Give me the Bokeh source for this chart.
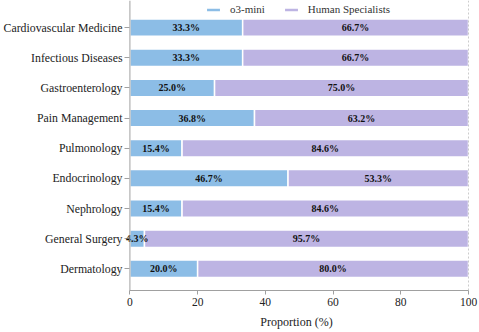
from bokeh.plotting import figure
from bokeh.models import (ColumnDataSource, Range1d, Span, Legend,
                          LegendItem, FixedTicker, LabelSet)
from bokeh.embed import file_html
from bokeh.resources import INLINE

specialties = ["Cardiovascular Medicine", "Infectious Diseases", "Gastroenterology",
               "Pain Management", "Pulmonology", "Endocrinology", "Nephrology",
               "General Surgery", "Dermatology"]
o3_mini = [33.3, 33.3, 25.0, 36.8, 15.4, 46.7, 15.4, 4.3, 20.0]
human = [66.7, 66.7, 75.0, 63.2, 84.6, 53.3, 84.6, 95.7, 80.0]
x_ticks = [0, 20, 40, 60, 80, 100]

BLUE = "#8cbde6"
PURPLE = "#bdb4e3"
FONT = "'Liberation Serif'"
AXIS_GRAY = "#a0a0a0"

n = len(specialties)
ypos = [n - 1 - i for i in range(n)]          # first category at the top
total = [a + b for a, b in zip(o3_mini, human)]
src = ColumnDataSource(dict(
    y=ypos,
    o3=o3_mini,
    total=total,
    o3_mid=[a / 2 for a in o3_mini],
    h_mid=[a + b / 2 for a, b in zip(o3_mini, human)],
    o3_lab=[f"{a:.1f}%" for a in o3_mini],
    h_lab=[f"{b:.1f}%" for b in human],
))

# small left margin on the x range so the "4.3%" label is not clipped
p = figure(width=478, height=331,
           y_range=Range1d(-0.72, n - 0.1),
           x_range=Range1d(-1.6, 100),
           output_backend="svg", toolbar_location=None,
           min_border_left=121, min_border_right=10,
           min_border_top=0, min_border_bottom=39)

r1 = p.hbar(y="y", left=0, right="o3", height=0.58, fill_color=BLUE,
            line_color="white", line_width=1.5, source=src)
r2 = p.hbar(y="y", left="o3", right="total", height=0.58, fill_color=PURPLE,
            line_color="white", line_width=1.5, source=src)

for xcol, tcol in (("o3_mid", "o3_lab"), ("h_mid", "h_lab")):
    p.add_layout(LabelSet(x=xcol, y="y", text=tcol, source=src, text_font=FONT,
                          text_font_style="bold", text_font_size="10px",
                          text_align="center", text_baseline="middle",
                          text_color="#111111"))

# y axis line at x = 0 and dotted line at x = 100
p.add_layout(Span(location=0, dimension="height", line_color=AXIS_GRAY,
                  line_width=1))
p.add_layout(Span(location=100, dimension="height", line_color="#999999",
                  line_dash="2 2", line_width=1))

legend = Legend(items=[LegendItem(label="o3-mini", renderers=[r1]),
                       LegendItem(label="Human Specialists", renderers=[r2])],
                orientation="horizontal", location=(80, 275),
                glyph_width=18, glyph_height=5, label_standoff=8, spacing=17,
                padding=0, margin=0, label_height=10,
                label_text_font=FONT, label_text_font_size="11px",
                label_text_color="#333333",
                background_fill_alpha=0, border_line_alpha=0)
p.add_layout(legend, "center")

p.xgrid.visible = False
p.ygrid.visible = False
p.outline_line_color = None

p.xaxis.ticker = FixedTicker(ticks=x_ticks)
p.xaxis.bounds = (0, 100)
p.xaxis.minor_tick_line_color = None
p.xaxis.axis_label = "Proportion (%)"
p.xaxis.axis_label_text_font = FONT
p.xaxis.axis_label_text_font_style = "normal"
p.xaxis.axis_label_text_font_size = "12px"
p.xaxis.axis_label_text_color = "#222222"
p.xaxis.axis_label_standoff = 6

for ax in (p.xaxis, p.yaxis):
    ax.axis_line_color = AXIS_GRAY
    ax.major_tick_line_color = AXIS_GRAY
    ax.major_label_text_font = FONT
    ax.major_label_text_color = "#222222"

p.xaxis.major_tick_out = 4
p.xaxis.major_tick_in = 0
p.xaxis.major_label_standoff = 3
p.xaxis.major_label_text_font_size = "11.5px"

p.yaxis.ticker = FixedTicker(ticks=ypos)
p.yaxis.minor_tick_line_color = None
p.yaxis.major_label_overrides = {y: s for y, s in zip(ypos, specialties)}
p.yaxis.axis_line_color = None
p.yaxis.major_tick_out = 0
p.yaxis.major_tick_in = 5
p.yaxis.major_label_standoff = 2
p.yaxis.major_label_text_font_size = "11.8px"

open("out.html", "w").write(file_html(p, INLINE))
